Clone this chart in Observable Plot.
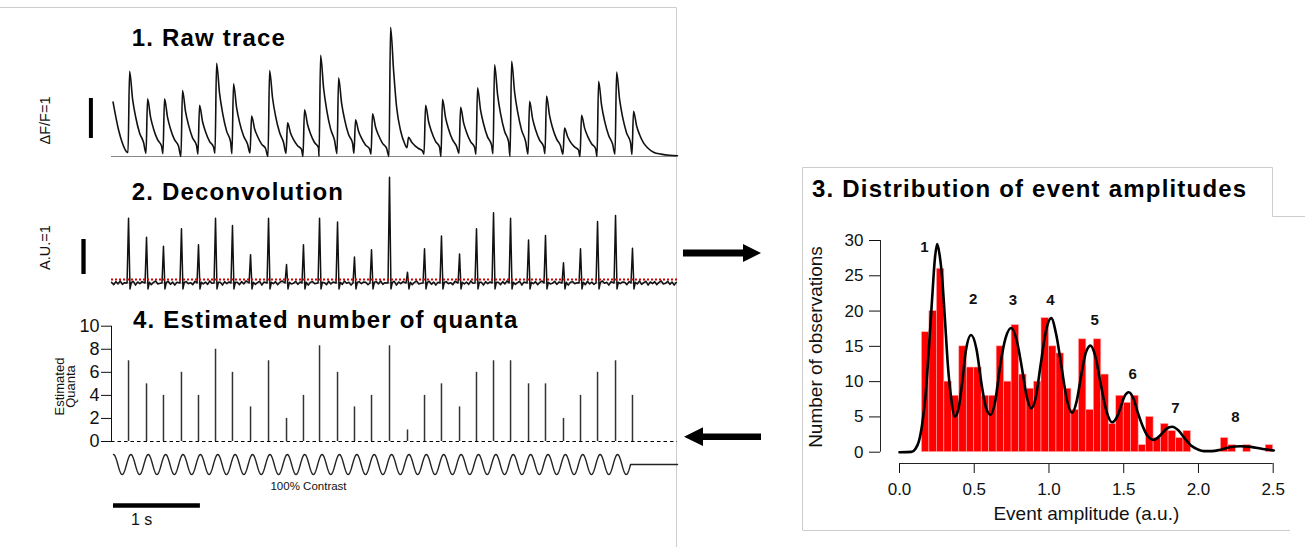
<!DOCTYPE html>
<html><head><meta charset="utf-8">
<script src="https://cdn.jsdelivr.net/npm/d3@7"></script>
<script src="https://cdn.jsdelivr.net/npm/@observablehq/plot@0.6"></script>
<style>
html,body{margin:0;padding:0;background:#fff;}
#fig{position:relative;width:1305px;height:547px;overflow:hidden;font-family:"Liberation Sans",Arial,Helvetica,sans-serif;background:#fff;}
.p{position:absolute;}
.title{position:absolute;font-weight:bold;font-size:24px;line-height:24px;white-space:nowrap;color:#000;letter-spacing:1.2px;}
</style></head><body><div id="fig"></div>
<script>
// ---------------- DATA ----------------
// event (stimulus cycle) times in seconds
const eventTimes = [0.173,0.380,0.575,0.782,0.978,1.174,1.369,1.577,1.784,1.991,2.186,2.371,2.578,2.773,2.969,3.176,3.383,3.579,3.774,3.982,4.177,4.373,4.569,4.776,4.971,5.178,5.374,5.570,5.777,5.972];
// panel 1 raw trace (ΔF/F): value before onset, peak and four decay samples per event
const rawTrough = [0.10,0.08,0.07,0.00,0.06,0.08,0.07,0.09,0.00,0.08,0.00,0.00,0.07,0.08,0.06,0.00,0.22,0.06,0.00,0.08,0.06,0.07,0.00,0.06,0.07,0.06,0.00,0.00,0.06,0.05];
const rawPeak   = [2.13,1.44,1.44,1.65,1.28,2.33,1.82,1.01,2.15,0.84,1.17,2.53,1.97,0.92,1.07,3.23,0.48,1.28,1.43,1.23,1.72,2.29,2.38,1.38,1.51,0.71,1.03,1.88,2.11,1.13];
const rawD1     = [1.43,0.98,0.98,1.12,0.87,1.57,1.23,0.69,1.45,0.58,0.80,1.70,1.33,0.63,0.73,2.15,0.36,0.87,0.97,0.84,1.16,1.54,1.60,0.94,1.02,0.50,0.71,1.27,1.42,0.77];
const rawD2     = [1.00,0.69,0.69,0.79,0.62,1.09,0.86,0.50,1.01,0.42,0.57,1.18,0.93,0.46,0.53,1.25,0.28,0.62,0.69,0.60,0.82,1.07,1.12,0.67,0.72,0.36,0.51,0.89,0.99,0.55];
const rawD3     = [0.59,0.42,0.42,0.47,0.38,0.64,0.52,0.31,0.60,0.27,0.35,0.69,0.55,0.29,0.33,0.65,0.20,0.38,0.42,0.37,0.49,0.63,0.66,0.41,0.44,0.24,0.32,0.53,0.59,0.34];
const rawD4     = [0.35,0.26,0.26,0.28,0.24,0.37,0.31,0.20,0.35,0.18,0.22,0.40,0.33,0.19,0.21,0.33,0.14,0.24,0.26,0.23,0.29,0.37,0.38,0.25,0.27,0.16,0.20,0.31,0.34,0.22];
const rawSampleOffsets = [-0.006,0.012,0.047,0.081,0.127,0.173]; // s, relative to event
const rawLeadT = [-0.005,0.06,0.10,0.155];
const rawLeadV = [1.36,0.65,0.35,0.11];
const rawTailT = [6.22,6.30,6.40,6.49];
const rawTailV = [0.10,0.06,0.03,0.02];
// panel 2 deconvolution (a.u.)
const deconvPeak = [1.85,1.31,1.05,1.55,1.09,1.85,1.64,0.81,1.85,0.53,1.09,1.85,1.74,0.74,0.95,3.02,0.31,0.98,1.34,0.83,1.55,2.01,1.85,1.23,1.36,0.58,0.98,1.76,1.93,0.99];
const deconvNoise = [0.02,-0.05,0.04,-0.03,0.06,-0.04,0.01,0.05,-0.06,0.03,-0.02,0.04,-0.05,0.02,0.06,-0.03,-0.01,0.05,-0.04,0.03,-0.06,0.02,0.04,-0.02,0.01,-0.05,0.05,-0.03,0.03,-0.04,0.06,-0.01,0.02,-0.06,0.04,-0.02,0.03];
const deconvDip = -0.17;
const deconvThreshold = 0.1;
// panel 4 estimated quanta
const quanta = [7,5,4,6,4,8,6,3,7,2,4,8.3,6,3,4,8.3,1,4,5,3,6,7,7,5,5,2,4,6,7,4];
const quantaTicks = [0,2,4,6,8,10];
// stimulus: 5 Hz sinusoid, 100% contrast
const stimFreq = 5;
const stimDuration = 5.95;
// panel 3 histogram
const binLeft = [0.15,0.20,0.25,0.30,0.35,0.40,0.45,0.50,0.55,0.60,0.65,0.70,0.75,0.80,0.85,0.90,0.95,1.00,1.05,1.10,1.15,1.20,1.25,1.30,1.35,1.40,1.45,1.50,1.55,1.60,1.65,1.70,1.75,1.80,1.85,1.90,1.95,2.00,2.05,2.10,2.15,2.20,2.25,2.30,2.35,2.40,2.45];
const binCount = [17,20,26,10,8,15,12,12,8,8,15,10,18,11,9,10,19,15,14,9,6,16,6,16,11,4,8,7,8,1,5,2,4,3,2,3,0,0,0,0,2,1,0,1,0,0,1];
const binWidth = 0.05;
const fitAmp = [0.00,0.08,0.107,0.129,0.152,0.174,0.196,0.219,0.237,0.252,0.268,0.286,0.305,0.323,0.346,0.370,0.395,0.42,0.445,0.479,0.515,0.55,0.58,0.609,0.64,0.675,0.71,0.747,0.785,0.82,0.85,0.881,0.91,0.945,0.98,1.015,1.05,1.088,1.12,1.155,1.185,1.215,1.245,1.278,1.31,1.345,1.385,1.423,1.455,1.48,1.505,1.534,1.565,1.59,1.625,1.66,1.70,1.745,1.785,1.824,1.865,1.91,1.95,1.995,2.036,2.09,2.147,2.21,2.281,2.35,2.43,2.504];
const fitCount = [0,0.05,0.5,1.5,4,8,14.5,22,27.5,29.5,28,24.5,18.5,12.5,7.6,5.05,6.2,10,14.5,16.6,14.6,9.5,6.2,5.3,7.2,12.5,16.2,17.6,15.8,11.8,8.0,6.2,7.6,12.5,17.2,19.0,16.5,11.5,7.4,5.6,7.2,10.8,14.0,15.1,13.6,9.8,5.8,4.25,5.0,6.4,7.9,8.5,7.6,5.9,3.8,2.3,1.75,2.4,3.3,3.6,3.1,1.9,0.95,0.4,0.15,0.15,0.35,0.7,0.85,0.75,0.45,0.25];
const peakLabels = ["1","2","3","4","5","6","7","8"];
const peakLabelAmp = [0.167,0.493,0.758,1.010,1.306,1.560,1.846,2.247];
const peakLabelCount = [29.05,21.7,21.6,21.6,18.7,11.1,6.3,4.9];
const histXTicks = [0,0.5,1,1.5,2,2.5];
const histYTicks = [0,5,10,15,20,25,30];

// ---------------- LAYOUT ----------------
const fontFam = '"Liberation Sans", Arial, Helvetica, sans-serif';
const fig = document.getElementById("fig");
function place(node, left, top){const d=document.createElement("div");d.className="p";d.style.left=left+"px";d.style.top=top+"px";d.appendChild(node);fig.appendChild(d);}
function title(txt,left,top){const d=document.createElement("div");d.className="title";d.style.left=left+"px";d.style.top=top+"px";d.textContent=txt;fig.appendChild(d);}
const baseStyle = (fs)=>({fontFamily:fontFam,fontSize:fs,color:"#111",background:"transparent",overflow:"visible"});

// frame lines and arrows (decoration)
fig.insertAdjacentHTML("beforeend",`<svg width="1305" height="547" style="position:absolute;left:0;top:0">
<g stroke="#cdcdcd" stroke-width="1" fill="none">
<path d="M0,7.5H676.5V547"/>
<path d="M802.5,530V167.5H1272.5V216.5H1305"/>
<path d="M802.5,530.5H1290"/>
</g>
<g fill="#000">
<path d="M683,249.5H743V244L761,253L743,262V256.5H683Z"/>
<path d="M684,436.7L703,427.3V433.5H761V440H703V446Z"/>
</g></svg>`);

const xDomain = [-0.023, 6.490];

// ---- Panel 1: raw trace
const rawPts = rawLeadT.map((t,i)=>({t, v: rawLeadV[i]}));
eventTimes.forEach((t,k)=>{
  const vals=[rawTrough[k],rawPeak[k],rawD1[k],rawD2[k],rawD3[k],rawD4[k]];
  rawSampleOffsets.forEach((o,j)=>rawPts.push({t:t+o, v:vals[j]}));
});
rawTailT.forEach((t,i)=>rawPts.push({t, v: rawTailV[i]}));

place(Plot.plot({
  width:680,height:170,marginLeft:111,marginRight:3,marginTop:16,marginBottom:14,
  style:baseStyle("14px"),
  x:{domain:xDomain,axis:null},y:{domain:[0,3.5],axis:null},
  marks:[
    Plot.ruleY([0],{stroke:"#888",strokeWidth:1}),
    Plot.line(rawPts,{x:"t",y:"v",curve:"monotone-x",stroke:"#111",strokeWidth:1.6}),
    Plot.ruleX([-0.26],{y1:0.45,y2:1.45,stroke:"#000",strokeWidth:4}),
    Plot.text(["ΔF/F=1"],{x:-0.78,y:0.9,rotate:-90,fontSize:14.5,fill:"#111"})
  ]
}),0,0);

// ---- Panel 2: deconvolution
const noiseStep = 0.025;
const deconvPts = [];
let ni = 0;
function addNoise(a,b){for(let t=a;t<=b;t+=noiseStep){deconvPts.push({t,v:deconvNoise[ni++ % deconvNoise.length]});}}
addNoise(xDomain[0], eventTimes[0]-0.035);
eventTimes.forEach((t,k)=>{
  deconvPts.push({t:t-0.017,v:0});
  deconvPts.push({t,v:deconvPeak[k]});
  deconvPts.push({t:t+0.017,v:deconvDip});
  deconvPts.push({t:t+0.033,v:0.02});
  const next = k+1<eventTimes.length ? eventTimes[k+1]-0.035 : xDomain[1];
  addNoise(t+0.055,next);
});
place(Plot.plot({
  width:680,height:145,marginLeft:111,marginRight:3,marginTop:10.5,marginBottom:1.5,
  style:baseStyle("14px"),
  x:{domain:xDomain,axis:null},y:{domain:[-0.6,3.2],axis:null},
  marks:[
    Plot.ruleY([0],{stroke:"#999",strokeWidth:1}),
    Plot.line(deconvPts,{x:"t",y:"v",stroke:"#111",strokeWidth:1.5}),
    Plot.ruleY([deconvThreshold],{stroke:"#d40000",strokeWidth:2,strokeDasharray:"2,2"}),
    Plot.ruleX([-0.345],{y1:0.243,y2:1.243,stroke:"#000",strokeWidth:4.3}),
    Plot.text(["A.U.=1"],{x:-0.78,y:1.01,rotate:-90,fontSize:14.5,fill:"#111"})
  ]
}),0,160);

// ---- Panel 4: estimated quanta
const quantaData = eventTimes.map((t,k)=>({t,q:quanta[k]}));
place(Plot.plot({
  width:680,height:149,marginLeft:111,marginRight:3,marginTop:25.7,marginBottom:8,
  style:baseStyle("18px"),
  x:{domain:xDomain,axis:null},
  y:{domain:[0,10],ticks:quantaTicks,tickSize:10,tickPadding:2,line:true,label:null},
  marks:[
    Plot.ruleY([0],{stroke:"#000",strokeWidth:1,strokeDasharray:"3.5,3"}),
    Plot.ruleX(quantaData,{x:"t",y1:0,y2:"q",stroke:"#333",strokeWidth:1.5}),
    Plot.text(["Estimated\nQuanta"],{x:-0.55,y:4.77,rotate:-90,fontSize:13,lineHeight:0.9,fill:"#111"})
  ]
}),0,300);

// ---- stimulus trace
const stimPts = [];
for(let i=0;i*0.005<=stimDuration+1e-9;i++){const t=i*0.005;stimPts.push({t,v:Math.cos(2*Math.PI*stimFreq*t)});}
stimPts.push({t:xDomain[1],v:0});
place(Plot.plot({
  width:680,height:98,marginLeft:111,marginRight:3,marginTop:5,marginBottom:73,
  style:baseStyle("12px"),
  x:{domain:xDomain,axis:null},y:{domain:[-1,1],axis:null},
  marks:[
    Plot.line(stimPts,{x:"t",y:"v",stroke:"#222",strokeWidth:1.4}),
    Plot.ruleY([-1],{x1:0,x2:1,dy:31,stroke:"#000",strokeWidth:4.5}),
    Plot.text(["1 s"],{x:0.2,y:-1,dy:45,textAnchor:"start",fontSize:16,fill:"#111"}),
    Plot.text(["100% Contrast"],{x:2.244,y:-1,dy:12,fontSize:11.5,fill:"#111"})
  ]
}),0,449);

// ---- Panel 3: histogram
const bins = binLeft.map((b,i)=>({x1:b,x2:b+binWidth,y:binCount[i]})).filter(d=>d.y>0);
const fit = fitAmp.map((a,i)=>({a,c:fitCount[i]}));
const labs = peakLabels.map((s,i)=>({s,a:peakLabelAmp[i],c:peakLabelCount[i]}));
place(Plot.plot({
  width:505,height:332,marginLeft:80,marginRight:32.3,marginTop:25,marginBottom:84,
  style:baseStyle("17px"),
  x:{domain:[0,2.5],insetLeft:19,ticks:histXTicks,tickFormat:d3.format(".1f"),tickSize:10,tickPadding:9,label:null},
  y:{domain:[0,30],insetBottom:11.3,ticks:histYTicks,tickSize:11,tickPadding:6,label:null},
  marks:[
    Plot.rectY(bins,{x1:"x1",x2:"x2",y:"y",fill:"#ff0000",stroke:"#ffb0b0",strokeWidth:0.6}),
    Plot.line(fit,{x:"a",y:"c",curve:"monotone-x",stroke:"#000",strokeWidth:2.6}),
    Plot.text(labs,{x:"a",y:"c",text:"s",fontWeight:"bold",fontSize:15,fill:"#111"}),
    Plot.ruleX([0],{y1:0,y2:30,dx:-19,stroke:"#222"}),
    Plot.ruleY([0],{x1:0,x2:2.5,dy:11.3,stroke:"#222"}),
    Plot.text(["Number of observations"],{frameAnchor:"left",textAnchor:"middle",dx:-65,dy:-5,rotate:-90,fontSize:19,fill:"#111"}),
    Plot.text([{x:1.25,s:"Event amplitude (a.u.)"}],{x:"x",text:"s",frameAnchor:"bottom",dy:56,fontSize:19,fill:"#111"})
  ]
}),800,215);

// ---- titles
title("1. Raw trace",131.7,25.7);
title("2. Deconvolution",131.7,179.7);
title("4. Estimated number of quanta",133,307.7);
title("3. Distribution of event amplitudes",812,177.4);
</script></body></html>
